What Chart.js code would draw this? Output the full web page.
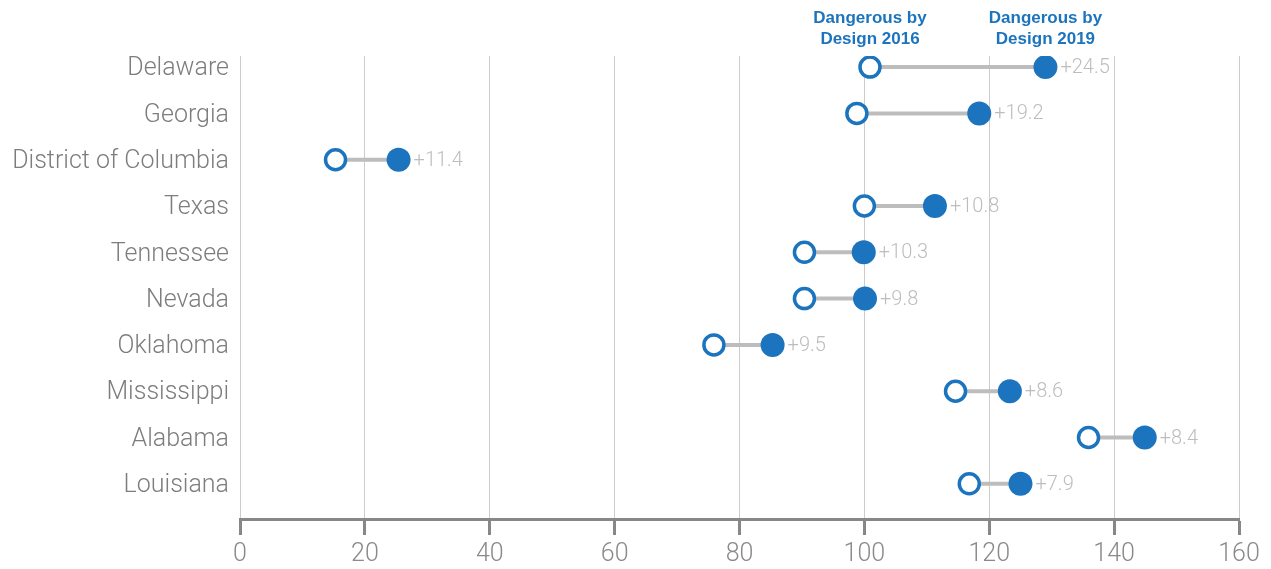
<!DOCTYPE html>
<html>
<head>
<meta charset="utf-8">
<script src="https://cdn.jsdelivr.net/npm/chart.js@4.4.1/dist/chart.umd.min.js"></script>
<style>
  html, body { margin: 0; padding: 0; background: #fff; }
  #wrap { width: 1271px; height: 569px; position: relative; }
</style>
</head>
<body>
<div id="wrap"><canvas id="dumbbell"></canvas></div>
<script>
const states = ['Delaware', 'Georgia', 'District of Columbia', 'Texas', 'Tennessee',
                'Nevada', 'Oklahoma', 'Mississippi', 'Alabama', 'Louisiana'];
const score2016 = [100.9, 98.8, 15.3, 100.0, 90.4, 90.4, 75.9, 114.6, 135.9, 116.8];
const score2019 = [129.0, 118.4, 25.4, 111.3, 99.9, 100.1, 85.3, 123.3, 144.9, 125.0];
const changeLabels = ['+24.5', '+19.2', '+11.4', '+10.8', '+10.3', '+9.8', '+9.5', '+8.6', '+8.4', '+7.9'];
const xTicks = [0, 20, 40, 60, 80, 100, 120, 140, 160];

const BLUE = '#1b74bd';
const FONT = "'Helvetica Neue', Roboto, 'Liberation Sans', sans-serif";

// one grey connector per state
const connectors = states.map((s, i) => ({
    label: s,
    data: [{ x: score2016[i], y: i }, { x: score2019[i], y: i }],
    showLine: true,
    borderColor: '#bdbdbd',
    borderWidth: 4,
    pointRadius: 0,
    order: 3
}));

// change labels next to the 2019 dot + column headers
const annotations = {
    id: 'annotations',
    afterDatasetsDraw(chart) {
        const { ctx, scales: { x, y } } = chart;
        ctx.save();
        ctx.font = '300 20px ' + FONT;
        ctx.fillStyle = '#bdbdbd';
        ctx.textAlign = 'left';
        ctx.textBaseline = 'middle';
        states.forEach((s, i) => {
            ctx.fillText(changeLabels[i], x.getPixelForValue(score2019[i]) + 15, y.getPixelForValue(i) + 1);
        });

        ctx.font = "bold 17px 'Liberation Sans', Arial, sans-serif";
        ctx.fillStyle = BLUE;
        ctx.textAlign = 'center';
        const heads = [['Dangerous by', 'Design 2016', score2016[0]], ['Dangerous by', 'Design 2019', score2019[0]]];
        heads.forEach(h => {
            const px = x.getPixelForValue(h[2]);
            ctx.fillText(h[0], px, 18);
            ctx.fillText(h[1], px, 39);
        });
        ctx.restore();
    }
};

new Chart(document.getElementById('dumbbell'), {
    type: 'scatter',
    data: {
        datasets: [
            ...connectors,
            {
                label: '2016',
                data: states.map((s, i) => ({ x: score2016[i], y: i })),
                pointRadius: 10,
                pointBorderWidth: 3.5,
                pointBackgroundColor: '#fff',
                pointBorderColor: BLUE,
                order: 2
            },
            {
                label: '2019',
                data: states.map((s, i) => ({ x: score2019[i], y: i })),
                pointRadius: 12,
                pointBorderWidth: 0,
                pointBackgroundColor: BLUE,
                pointBorderColor: BLUE,
                order: 1
            }
        ]
    },
    options: {
        responsive: true,
        maintainAspectRatio: false,
        animation: false,
        layout: { padding: { top: 56, right: 32, left: 0, bottom: 0 } },
        plugins: {
            legend: { display: false },
            tooltip: { enabled: false }
        },
        scales: {
            x: {
                type: 'linear',
                min: 0,
                max: 160,
                afterBuildTicks: axis => { axis.ticks = xTicks.map(v => ({ value: v })); },
                afterFit: axis => { axis.height = 50; },
                border: { color: '#878787', width: 3 },
                grid: {
                    color: '#cccccc',
                    lineWidth: 1,
                    tickColor: '#878787',
                    tickWidth: 3,
                    tickLength: 16
                },
                ticks: {
                    color: '#8a8a8a',
                    padding: 5,
                    font: { family: FONT, size: 25, weight: '300' }
                }
            },
            y: {
                type: 'linear',
                reverse: true,
                min: -0.24,
                max: 9.76,
                afterBuildTicks: axis => { axis.ticks = states.map((s, i) => ({ value: i })); },
                afterFit: axis => { axis.width = 240; },
                border: { display: false },
                grid: { display: false },
                ticks: {
                    color: '#7d7d7d',
                    padding: 3,
                    labelOffset: 2,
                    font: { family: FONT, size: 25, weight: '300' },
                    callback: v => states[v]
                }
            }
        }
    },
    plugins: [annotations]
});
</script>
</body>
</html>
